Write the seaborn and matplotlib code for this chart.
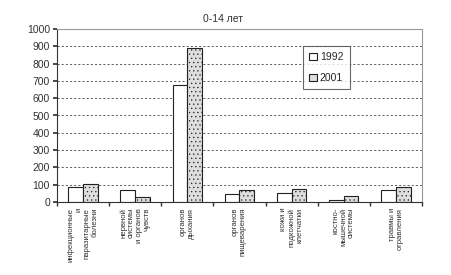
import matplotlib
matplotlib.use("Agg")
import matplotlib.pyplot as plt
import seaborn as sns
import pandas as pd
import numpy as np

categories = [
    "инфекционные\nи\nпаразитарные\nболезни",
    "нервной\nсистемы\nи органов\nчувств",
    "органов\nдыхания",
    "органов\nпищеварения",
    "кожи и\nподкожной\nклетчатки",
    "костно-\nмышечной\nсистемы",
    "травмы и\nотравления",
]
values_1992 = [85, 70, 675, 45, 52, 15, 70]
values_2001 = [105, 28, 890, 70, 78, 35, 90]
years = ["1992", "2001"]
yticks = [0, 100, 200, 300, 400, 500, 600, 700, 800, 900, 1000]

df = pd.DataFrame({
    "cat": categories * 2,
    "year": [years[0]] * len(categories) + [years[1]] * len(categories),
    "value": values_1992 + values_2001,
})

sns.set_theme(style="white")
plt.rcParams["font.family"] = ["Liberation Sans", "DejaVu Sans"]
plt.rcParams["hatch.color"] = "#9a9a9a"
plt.rcParams["hatch.linewidth"] = 0.4

fig = plt.figure(figsize=(4.51, 2.75), dpi=100)
ax = fig.add_axes([0.126, 0.265, 0.81, 0.63])

sns.barplot(data=df, x="cat", y="value", hue="year", ax=ax, width=0.56,
            palette={"1992": "white", "2001": "#dedede"},
            edgecolor="#222222", linewidth=0.8, saturation=1)

for p in ax.containers[1]:
    p.set_hatch("....")

ax.set_ylim(0, 1000)
ax.set_xlim(-0.5, len(categories) - 0.5)
ax.set_yticks(yticks)
ax.tick_params(axis="y", labelsize=7.5, length=3, direction="out", left=True, pad=2, colors="#333333")
ax.yaxis.grid(True, linestyle=(0, (2.5, 2.5)), color="#444444", linewidth=0.6)
ax.set_axisbelow(True)

ax.set_xticks(range(len(categories)))
ax.set_xticklabels(categories, rotation=90, fontsize=5.6, va="top", ha="center",
                   multialignment="right", color="#333333", linespacing=1.15)
ax.tick_params(axis="x", which="major", length=0, pad=4)
ax.set_xticks(np.arange(-0.5, len(categories), 1.0), minor=True)
ax.tick_params(axis="x", which="minor", length=3, direction="out", bottom=True, color="#333333")

ax.set_xlabel("")
ax.set_ylabel("")
for s in ["top", "right"]:
    ax.spines[s].set_color("#999999")
    ax.spines[s].set_linewidth(0.8)
for s in ["left", "bottom"]:
    ax.spines[s].set_color("#333333")
    ax.spines[s].set_linewidth(0.8)

leg = ax.legend(loc="upper left", bbox_to_anchor=(0.66, 0.93), fontsize=7.5,
                frameon=True, fancybox=False, edgecolor="#444444",
                handlelength=0.7, handleheight=0.7, handletextpad=0.3,
                labelspacing=1.0, borderpad=0.6)
leg.get_frame().set_linewidth(0.8)

fig.text(0.495, 0.93, "0-14 лет", ha="center", va="center", fontsize=7.5, color="#333333")

fig.savefig("out.png", dpi=100)
